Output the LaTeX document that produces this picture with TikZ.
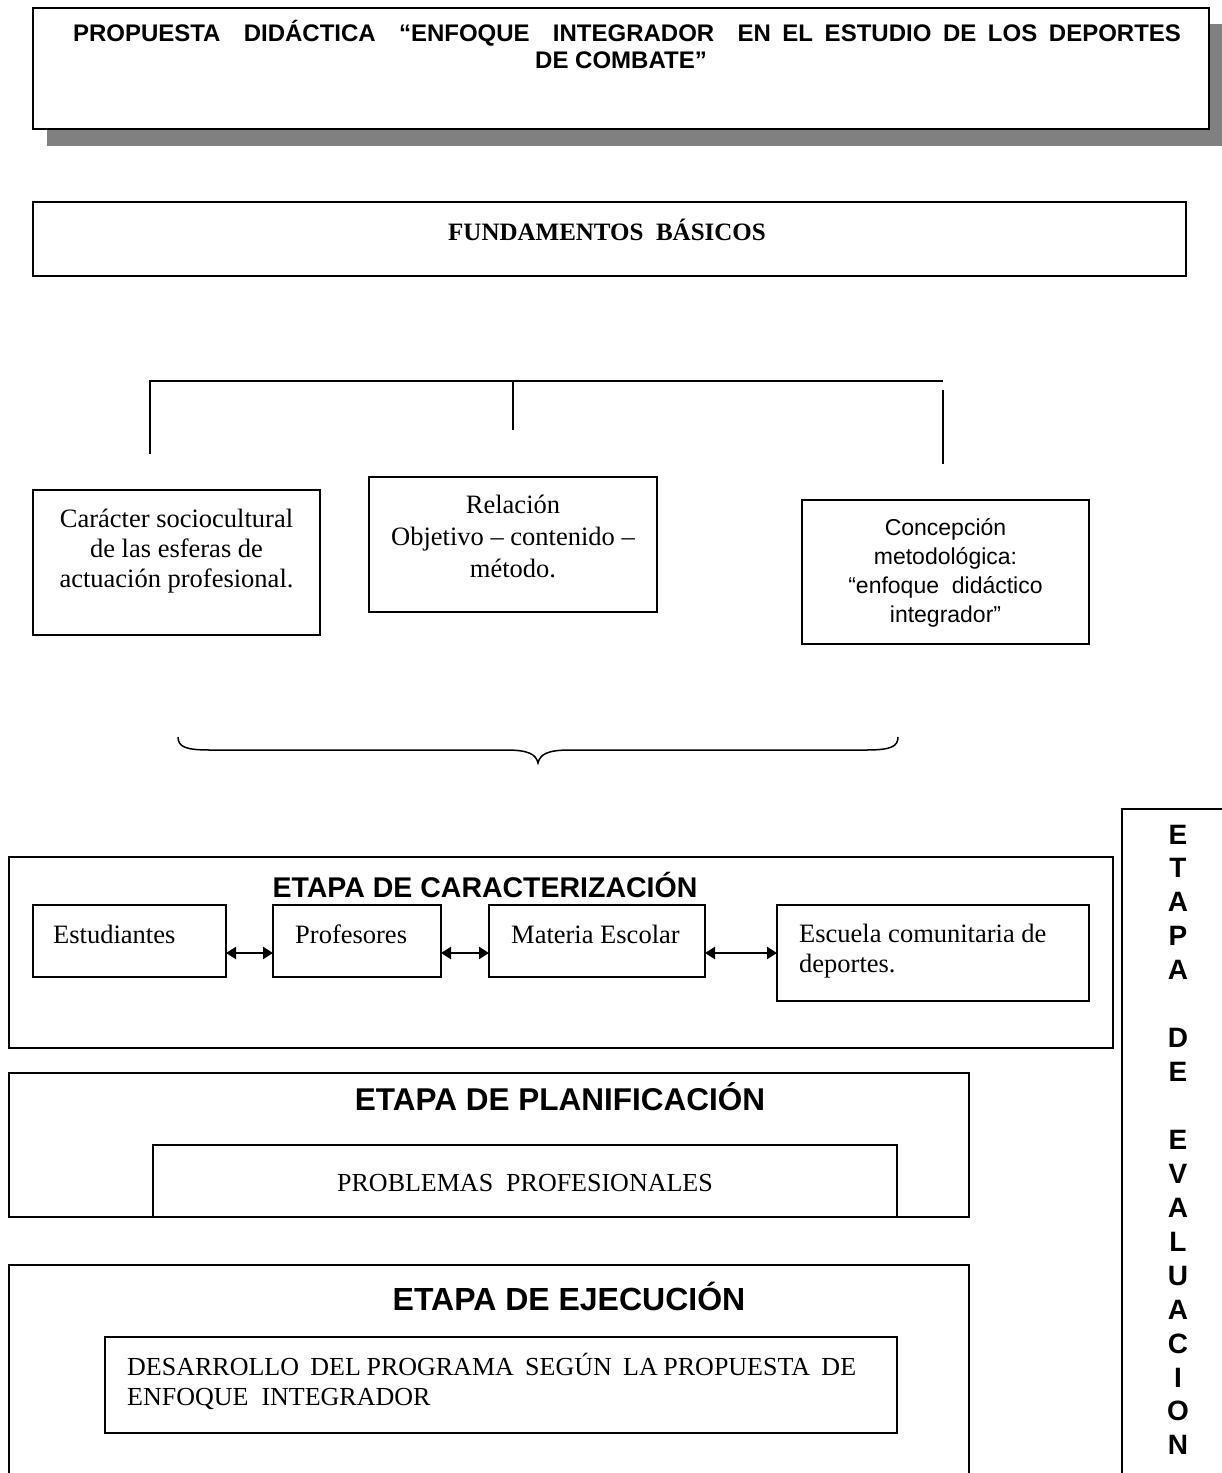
\documentclass[tikz,border=0pt]{standalone}
\usepackage{fontspec}
\setmainfont{Liberation Serif}
\newfontfamily\arialf{Liberation Sans}
\usetikzlibrary{arrows.meta}
\tikzset{
  box/.style={draw, line width=1.5pt, inner sep=0pt, outer sep=0pt, anchor=north west, fill=white},
  conn/.style={line width=1.5pt},
  dblarrow/.style={line width=2.2pt, {Triangle[length=10pt,width=12pt]}-{Triangle[length=10pt,width=12pt]}},
  sertxt/.style={font=\fontsize{26.5}{30}\selectfont, inner sep=0pt, anchor=base},
  sanstxt/.style={font=\arialf\fontsize{23}{29}\selectfont, inner sep=0pt, anchor=base},
  stagetitle/.style={font=\arialf\bfseries\fontsize{31.5}{36}\selectfont, inner sep=0pt, anchor=base},
  titletxt/.style={font=\arialf\bfseries\fontsize{24}{27}\selectfont, inner sep=0pt, anchor=base},
}
\begin{document}
\begin{tikzpicture}[x=1pt,y=-1pt]
\useasboundingbox (0,0) rectangle (1222,1473);
% title with shadow
\fill[black!50] (47,24) rectangle (1222,146);
\node[box, line width=1.8pt, minimum width=1176pt, minimum height=121pt] (title) at (33,8) {};
\node[titletxt] (ttl1) at (627,41)
  {\makebox[1108pt][s]{PROPUESTA\ \ DIDÁCTICA\ \ “ENFOQUE\ \ INTEGRADOR\ \ EN EL ESTUDIO DE LOS DEPORTES}};
\node[titletxt] (ttl2) at (621,68) {DE COMBATE”};
% fundamentos
\node[box, minimum width=1153pt, minimum height=74pt] (fund) at (33,202) {};
\node[inner sep=0pt, anchor=base, font=\bfseries\fontsize{25}{30}\selectfont] (fundt) at (607,240) {FUNDAMENTOS\ \ BÁSICOS};
% bracket
\coordinate (bl) at (150,381);
\coordinate (br) at (943,381);
\coordinate (bm) at (513,381);
\coordinate (bld) at (150,454);
\coordinate (bmd) at (513,430);
\coordinate (brt) at (943,390);
\coordinate (brd) at (943,464);
\draw[conn] (bld) -- (bl) -- (br);
\draw[conn] (bm) -- (bmd);
\draw[conn] (brt) -- (brd);
% three boxes
\node[box, minimum width=287pt, minimum height=145pt] (b1) at (33,490) {};
\node[sertxt] (b1t) at (176.5,527) {\parbox[t]{285pt}{\centering Carácter sociocultural\\de las esferas de\\actuación profesional.}};
\node[box, minimum width=288pt, minimum height=135pt] (b2) at (369,477) {};
\node[sertxt, font=\fontsize{26.5}{32}\selectfont] (b2t) at (513,513) {\parbox[t]{285pt}{\centering Relación\\Objetivo -- contenido --\\método.}};
\node[box, minimum width=287pt, minimum height=144pt] (b3) at (802,500) {};
\node[sanstxt] (b3t) at (945.5,535) {\parbox[t]{285pt}{\centering Concepción\\metodológica:\\“enfoque\ \ didáctico\\integrador”}};
% brace
\coordinate (brL) at (178,737);
\coordinate (brR) at (898,737);
\coordinate (brTip) at (538,763);
\draw[conn] (brL) .. controls (178,747) and (186,750) .. (210,750) -- (506,750)
  .. controls (528,750) and (536,754) .. (brTip)
  .. controls (540,754) and (548,750) .. (570,750) -- (866,750)
  .. controls (890,750) and (898,747) .. (brR);
% evaluacion column
\coordinate (evB) at (1122,1473);
\coordinate (evC) at (1122,809);
\coordinate (evR) at (1222,809);
\draw[conn] (evB) -- (evC) -- (evR);
\node[inner sep=0pt, anchor=base, font=\arialf\bfseries\fontsize{28}{33.94}\selectfont] (evt) at (1178,844)
  {\parbox[t]{40pt}{\centering E\\T\\A\\P\\A\\\mbox{}\\D\\E\\\mbox{}\\E\\V\\A\\L\\U\\A\\C\\I\\O\\N}};
% caracterizacion
\node[box, minimum width=1104pt, minimum height=191pt] (carac) at (9,857) {};
\node[stagetitle, font=\arialf\bfseries\fontsize{28.5}{34}\selectfont] (caract) at (485,897) {ETAPA DE CARACTERIZACIÓN};
\node[box, minimum width=193pt, minimum height=72pt] (est) at (33,905) {};
\node[sertxt, anchor=base west] (estt) at (53,943) {Estudiantes};
\node[box, minimum width=168pt, minimum height=72pt] (prof) at (273,905) {};
\node[sertxt, anchor=base west] (proft) at (295,943) {Profesores};
\node[box, minimum width=216pt, minimum height=72pt] (mat) at (489,905) {};
\node[sertxt, anchor=base west] (matt) at (511,943) {Materia Escolar};
\node[box, minimum width=312pt, minimum height=96pt] (esc) at (777,905) {};
\node[sertxt, anchor=base west] (esct) at (799,942) {\parbox[t]{285pt}{\raggedright Escuela comunitaria de\\deportes.}};
\draw[dblarrow] ([yshift=-12pt]est.east) -- ([yshift=-12pt]prof.west);
\draw[dblarrow] ([yshift=-12pt]prof.east) -- ([yshift=-12pt]mat.west);
\draw[dblarrow] ([yshift=-12pt]mat.east) -- (esc.west);
% planificacion
\node[box, minimum width=960pt, minimum height=144pt] (plan) at (9,1073) {};
\node[stagetitle] (plant) at (560,1110) {ETAPA DE PLANIFICACIÓN};
\node[box, minimum width=744pt, minimum height=72pt] (prob) at (153,1145) {};
\node[sertxt, font=\fontsize{26}{30}\selectfont] (probt) at (525,1191) {PROBLEMAS\ \ PROFESIONALES};
% ejecucion
\coordinate (ejBL) at (9,1473);
\coordinate (ejTL) at (9,1265);
\coordinate (ejTR) at (969,1265);
\coordinate (ejBR) at (969,1473);
\draw[conn] (ejBL) -- (ejTL) -- (ejTR) -- (ejBR);
\node[stagetitle, font=\arialf\bfseries\fontsize{32}{36}\selectfont] (ejt) at (569,1310) {ETAPA DE EJECUCIÓN};
\node[box, minimum width=792pt, minimum height=96pt] (desa) at (105,1337) {};
\node[sertxt, anchor=base west, font=\fontsize{26}{30}\selectfont] (desat) at (127,1375)
  {\parbox[t]{740pt}{\raggedright\makebox[729pt][s]{DESARROLLO\ \ DEL PROGRAMA\ \ SEGÚN\ \ LA PROPUESTA\ \ DE}\\ENFOQUE\ \ INTEGRADOR}};
\end{tikzpicture}
\end{document}
